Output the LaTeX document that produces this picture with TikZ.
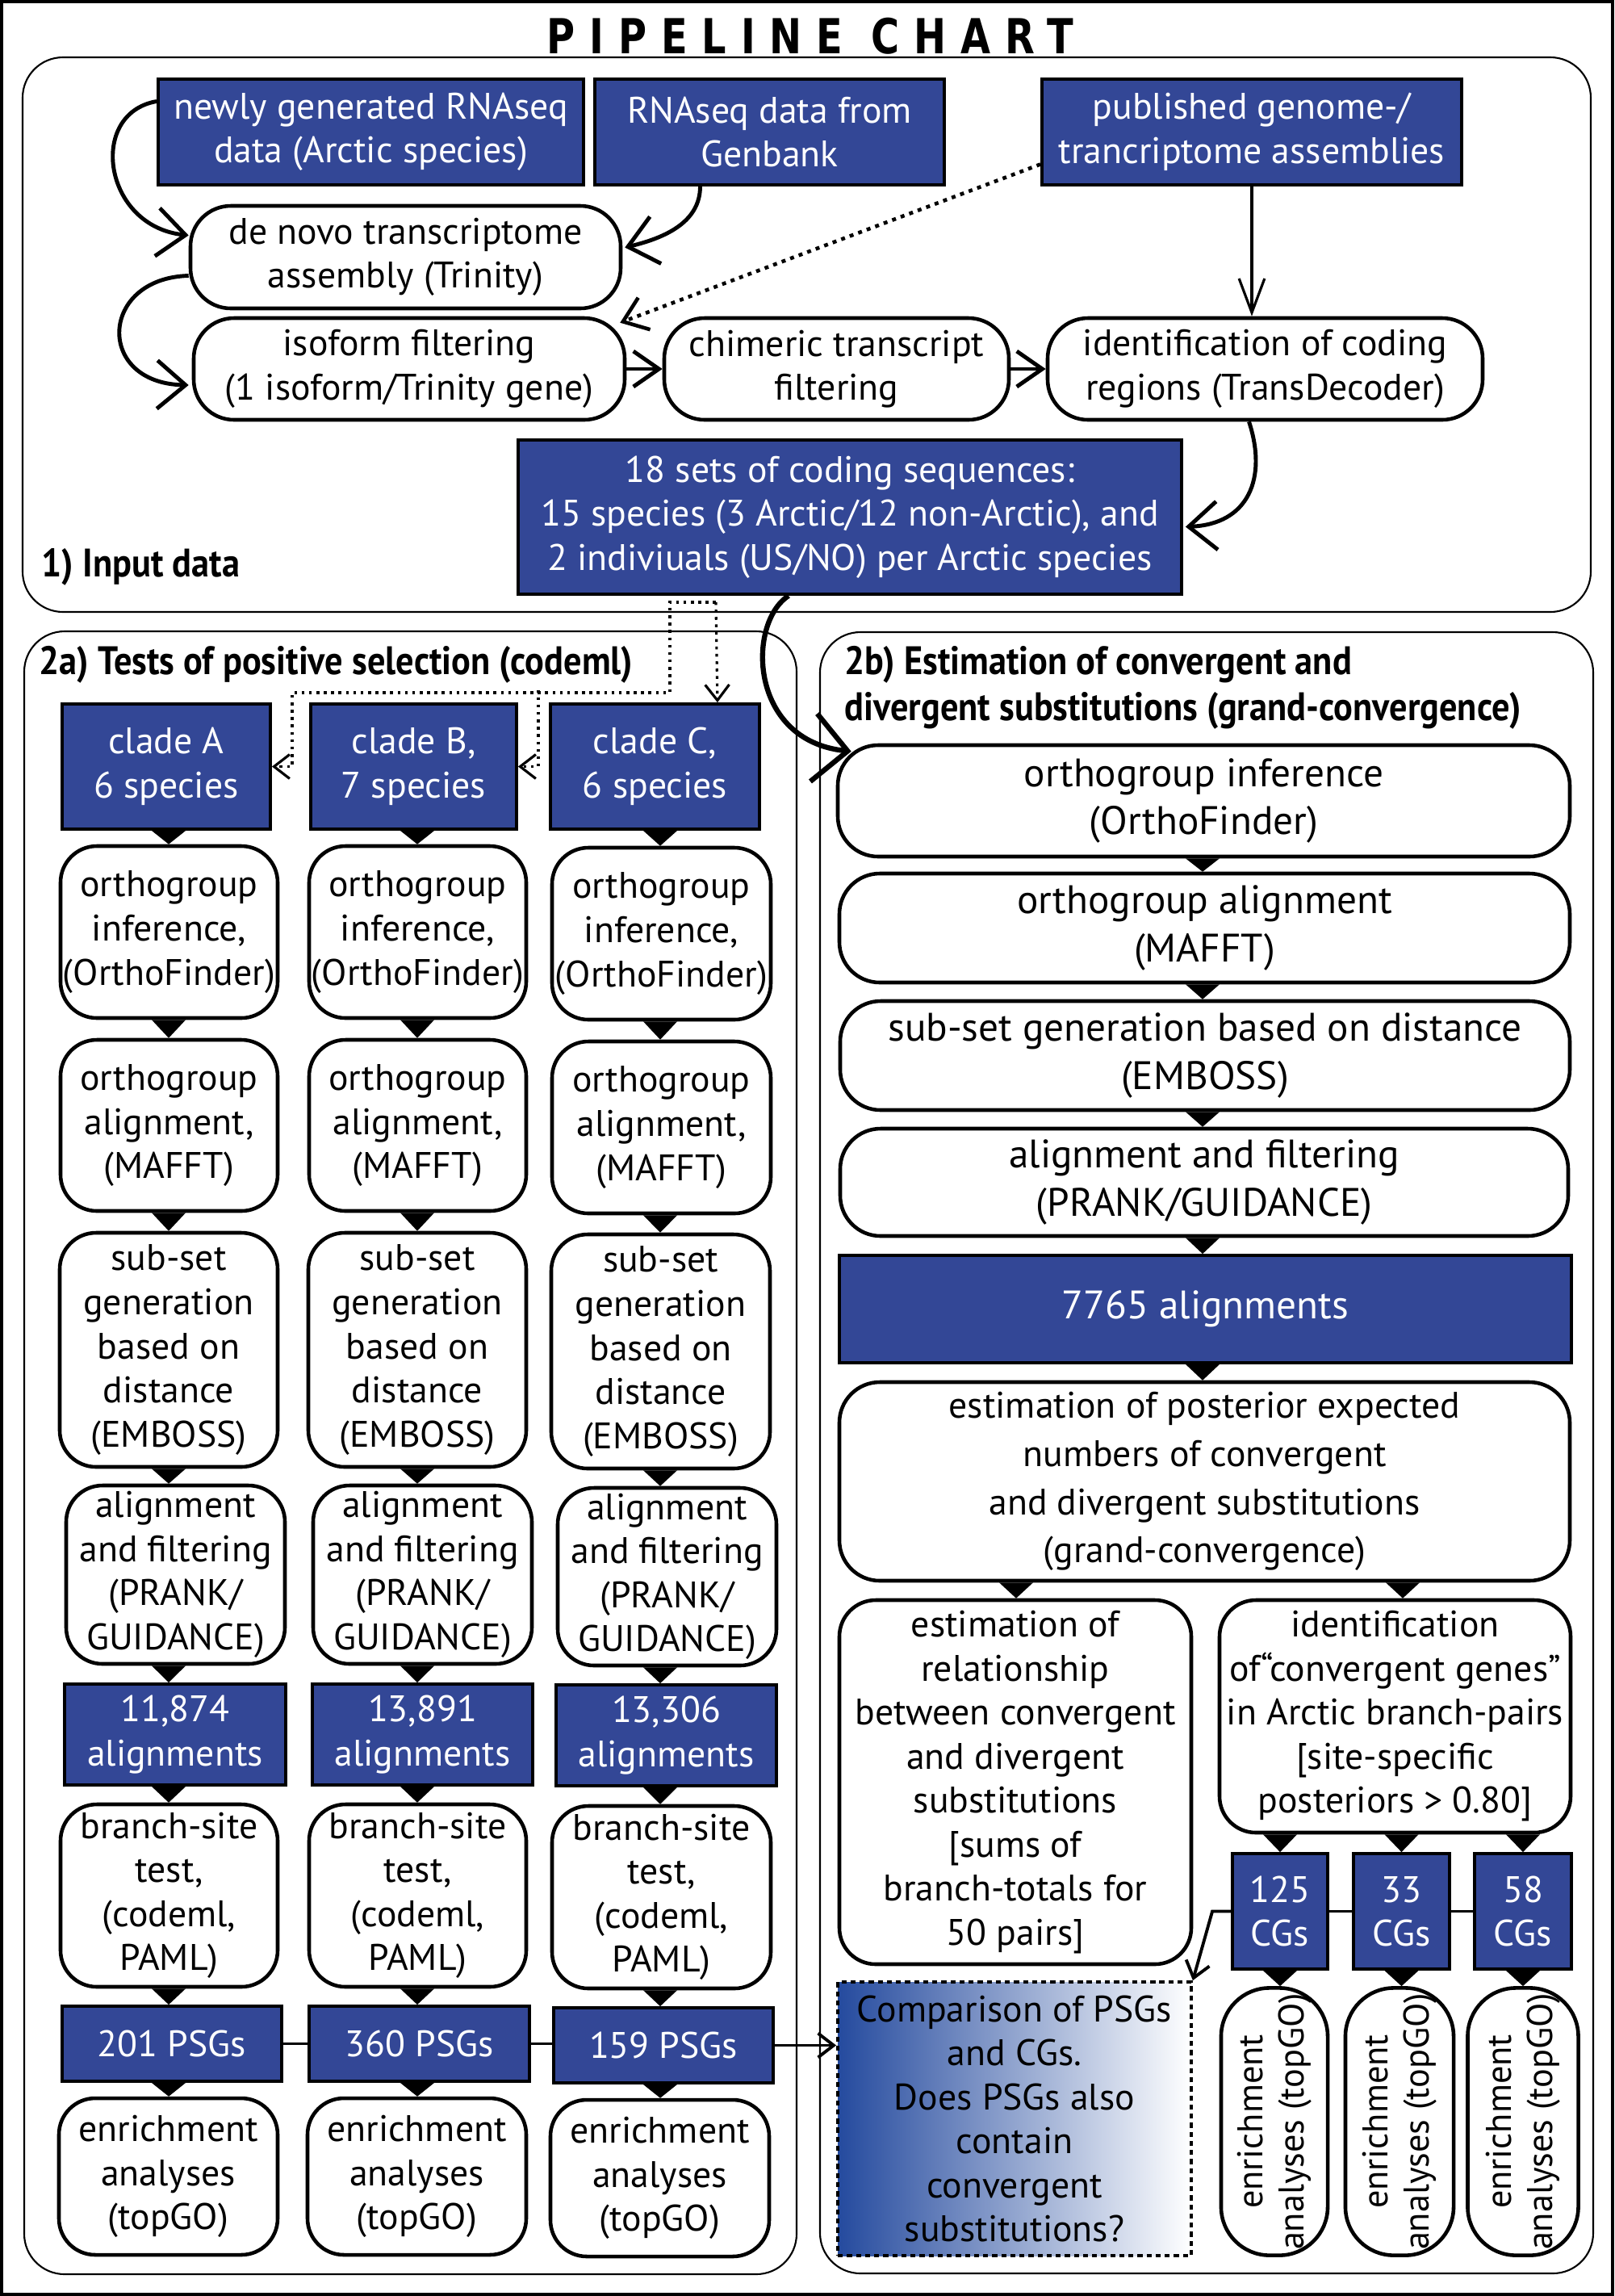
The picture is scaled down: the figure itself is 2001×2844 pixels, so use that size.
\documentclass[tikz,border=0pt]{standalone}
\usepackage{fontspec}
\setmainfont{PT Sans}
\newfontfamily\titlefont{DejaVu Sans}[FakeStretch=0.8]
\newfontfamily\secfont{PT Sans}[FakeStretch=0.9]
\usetikzlibrary{calc,arrows.meta}
\definecolor{myblue}{RGB}{51,71,150}
\definecolor{gradblue}{RGB}{36,74,158}
\newcommand\bodysize{\fontsize{13}{15.5}\selectfont}
\newcommand\widesize{\fontsize{14}{17}\selectfont}
\newcommand\tri[3]{\fill ($(#2.south -| #1)+(-21,0)$) -- ($(#2.south -| #1)+(21,0)$) -- (#1 |- #3.north) -- cycle;}
\begin{document}
\begin{tikzpicture}[x=0.01cm,y=-0.01cm,
  box/.style args={#1/#2/#3/#4}{minimum width={(#3-#1)*0.01cm}, minimum height={(#4-#2)*0.01cm}, at={({(#1+#3)/2},{(#2+#4)/2})}},
  bluebox/.style={draw=black, line width=1.1pt, fill=myblue, text=white, align=center, inner sep=0pt, font=\bodysize},
  rbox/.style={draw=black, line width=1.3pt, fill=white, rounded corners=0.45cm, align=center, inner sep=0pt, font=\bodysize},
  wbox/.style={rbox, rounded corners=0.5cm, font=\widesize},
  vbox/.style={rbox, rounded corners=0.6cm, rotate=90, minimum width=3.31cm, font=\fontsize{12.6}{14.5}\selectfont},
  section/.style={draw=black, line width=0.6pt, rounded corners=0.5cm, inner sep=0pt},
  sectitle/.style={font=\fontsize{14}{16}\selectfont\secfont\bfseries, inner sep=0pt},
  conn/.style={line width=1.4pt},
  barbA/.style={-{Straight Barb[length=10pt,width=17pt]}},
  barbB/.style={-{Straight Barb[length=9pt,width=12.5pt]}},
  barbS/.style={-{Straight Barb[length=5.5pt,width=8.5pt]}},
  dotline/.style={line width=0.9pt, dash pattern=on 1pt off 1.6pt},
]
\useasboundingbox (0,0) rectangle (2001,2844);
\fill[white] (0,0) rectangle (2001,2844);
\draw[line width=1.14pt] (2,2) rectangle (1998,2842);

\node[font=\titlefont\bfseries\fontsize{17}{17}\selectfont\addfontfeatures{LetterSpace=30}] (title) at (1004,45) {PIPELINE CHART};

% sections
\node[section, box=28/71/1971/758] (sec1) {};
\node[section, box=30/782/987/2817] (sec2a) {};
\node[section, box=1016/783/1974/2816] (sec2b) {};
\node[sectitle, anchor=west] (lab1) at (51,702) {1) Input data};
\node[sectitle, anchor=west] (lab2a) at (48,823) {2a) Tests of positive selection (codeml)};
\node[sectitle, anchor=north west, align=left, font=\fontsize{14}{16.2}\selectfont\secfont\bfseries] (lab2b) at (1046,800) {2b) Estimation of convergent and\\divergent substitutions (grand-convergence)};

% section 1
\node[bluebox, box=196/98/723/229] (nA) {newly generated RNAseq\\data (Arctic species)};
\node[bluebox, box=737/98/1170/229] (nB) {RNAseq data from\\Genbank};
\node[bluebox, box=1291/98/1811/229] (nC) {published genome-/\\trancriptome assemblies};
\node[rbox, rounded corners=0.5cm, box=236/255/769/382] (denovo) {de novo transcriptome\\assembly (Trinity)};
\node[rbox, rounded corners=0.5cm, box=240/394/774/520] (iso) {isoform filtering\\(1 isoform/Trinity gene)};
\node[rbox, rounded corners=0.5cm, box=823/394/1250/520] (chim) {chimeric transcript\\filtering};
\node[rbox, rounded corners=0.5cm, box=1298/394/1837/520] (ident) {identification of coding\\regions (TransDecoder)};
\node[bluebox, box=642/545/1464/736] (sets) {18 sets of coding sequences:\\15 species (3 Arctic/12 non-Arctic), and\\2 indiviuals (US/NO) per Arctic species};

% section 2a
\node[bluebox, box=77/872/335/1027] (cA) {clade A\\6 species};
\node[bluebox, box=385/872/640/1027] (cB) {clade B,\\7 species};
\node[bluebox, box=682/872/941/1027] (cC) {clade C,\\6 species};
\node[rbox, box=75/1048/344/1261] (oiA) {orthogroup\\inference,\\(OrthoFinder)};
\node[rbox, box=383/1048/652/1261] (oiB) {orthogroup\\inference,\\(OrthoFinder)};
\node[rbox, box=684/1050/955/1263] (oiC) {orthogroup\\inference,\\(OrthoFinder)};
\node[rbox, box=75/1288/344/1500] (oaA) {orthogroup\\alignment,\\(MAFFT)};
\node[rbox, box=383/1288/652/1500] (oaB) {orthogroup\\alignment,\\(MAFFT)};
\node[rbox, box=684/1290/955/1503] (oaC) {orthogroup\\alignment,\\(MAFFT)};
\node[rbox, box=74/1527/344/1817] (ssA) {sub-set\\generation\\based on\\distance\\(EMBOSS)};
\node[rbox, box=382/1527/652/1817] (ssB) {sub-set\\generation\\based on\\distance\\(EMBOSS)};
\node[rbox, box=683/1529/954/1819] (ssC) {sub-set\\generation\\based on\\distance\\(EMBOSS)};
\node[rbox, box=82/1840/353/2061] (afA) {alignment\\and filtering\\(PRANK/\\GUIDANCE)};
\node[rbox, box=388/1840/659/2061] (afB) {alignment\\and filtering\\(PRANK/\\GUIDANCE)};
\node[rbox, box=691/1843/962/2063] (afC) {alignment\\and filtering\\(PRANK/\\GUIDANCE)};
\node[bluebox, box=80/2086/354/2211] (alA) {11,874\\alignments};
\node[bluebox, box=387/2086/660/2211] (alB) {13,891\\alignments};
\node[bluebox, box=689/2087/962/2212] (alC) {13,306\\alignments};
\node[rbox, box=75/2235/344/2461] (bsA) {branch-site\\test,\\(codeml,\\PAML)};
\node[rbox, box=383/2235/652/2461] (bsB) {branch-site\\test,\\(codeml,\\PAML)};
\node[rbox, box=684/2237/955/2463] (bsC) {branch-site\\test,\\(codeml,\\PAML)};
\node[bluebox, box=77/2485/349/2578] (psA) {201 PSGs};
\node[bluebox, box=383/2485/656/2578] (psB) {360 PSGs};
\node[bluebox, box=686/2487/958/2580] (psC) {159 PSGs};
\node[rbox, box=73/2599/344/2793] (enA) {enrichment\\analyses\\(topGO)};
\node[rbox, box=381/2599/652/2793] (enB) {enrichment\\analyses\\(topGO)};
\node[rbox, box=682/2601/953/2795] (enC) {enrichment\\analyses\\(topGO)};

% section 2b
\node[wbox, box=1038/923/1945/1061] (b1) {orthogroup inference\\(OrthoFinder)};
\node[wbox, box=1040/1082/1945/1217] (b2) {orthogroup alignment\\(MAFFT)};
\node[wbox, box=1041/1240/1945/1375] (b3) {sub-set generation based on distance\\(EMBOSS)};
\node[wbox, box=1041/1398/1943/1531] (b4) {alignment and filtering\\(PRANK/GUIDANCE)};
\node[bluebox, font=\widesize, box=1040/1555/1947/1688] (b5) {7765 alignments};
\node[wbox, font=\fontsize{13}{17}\selectfont, box=1040/1712/1945/1958] (b6) {estimation of posterior expected\\numbers of convergent\\and divergent substitutions\\(grand-convergence)};
\node[rbox, box=1040/1982/1476/2433] (b7) {estimation of\\relationship\\between convergent\\and divergent\\substitutions\\{}[sums of\\branch-totals for\\50 pairs]};
\node[rbox, box=1511/1982/1946/2270] (b8) {identification\\of“convergent genes”\\in Arctic branch-pairs\\{}[site-specific\\posteriors > 0.80]};
\node[bluebox, box=1527/2296/1645/2439] (cg1) {125\\CGs};
\node[bluebox, box=1677/2296/1796/2439] (cg2) {33\\CGs};
\node[bluebox, box=1827/2296/1947/2439] (cg3) {58\\CGs};
\node[vbox, minimum height=1.32cm] (en1) at (1579,2628) {enrichment\\analyses (topGO)};
\node[vbox, minimum height=1.34cm] (en2) at (1734,2628) {enrichment\\analyses (topGO)};
\node[vbox, minimum height=1.37cm] (en3) at (1887,2628) {enrichment\\analyses (topGO)};
\node[draw=black, line width=1.1pt, dash pattern=on 1.8pt off 1.4pt, left color=gradblue, right color=white, align=center, inner sep=0pt, font=\bodysize, box=1038/2455/1476/2794] (cmp) {Comparison of PSGs\\and CGs.\\Does PSGs also\\contain\\convergent\\substitutions?};

% column coordinates
\coordinate (colA) at (209,0);
\coordinate (colB) at (517,0);
\coordinate (colC) at (818,0);
\coordinate (colM) at (1490,0);
\coordinate (colL) at (1259,0);
\coordinate (colR) at (1738,0);

% triangle connectors
\foreach \c in {A,B,C}{
  \tri{col\c}{c\c}{oi\c}
  \tri{col\c}{oi\c}{oa\c}
  \tri{col\c}{oa\c}{ss\c}
  \tri{col\c}{ss\c}{af\c}
  \tri{col\c}{af\c}{al\c}
  \tri{col\c}{al\c}{bs\c}
  \tri{col\c}{bs\c}{ps\c}
  \tri{col\c}{ps\c}{en\c}
}
\tri{colM}{b1}{b2}
\tri{colM}{b2}{b3}
\tri{colM}{b3}{b4}
\tri{colM}{b4}{b5}
\tri{colM}{b5}{b6}
\tri{colL}{b6}{b7}
\tri{colR}{b6}{b8}
\tri{cg1}{b8}{cg1}
\tri{cg2}{b8}{cg2}
\tri{cg3}{b8}{cg3}
\foreach \i in {1,2,3}{
  \fill ($(cg\i.south)+(-21,0)$) -- ($(cg\i.south)+(21,0)$) -- (cg\i.south |- en\i.east) -- cycle;
}

% section 1 connectors
\draw[conn, barbA] ($(nA.west)+(0,-38)$) .. controls +(-86,15) and +(-106,-11) .. ($(denovo.west)+(0,-27)$);
\draw[conn, barbA] ($(nB.south)+(-86,0)$) .. controls +(0,46) and +(46,-11) .. ($(denovo.east)+(3,-12)$);
\draw[line width=1.3pt, dash pattern=on 1.4pt off 1.8pt, -{Straight Barb[length=8pt,width=12pt]}] ($(nC.west)+(0,40)$) -- ($(iso.north east)+(-8,8)$);
\draw[line width=0.9pt, -{Straight Barb[length=12pt,width=9pt]}] (nC.south) -- (nC.south |- ident.north);
\draw[conn, barbA] ($(denovo.west)+(0,23)$) .. controls +(-111,3) and +(-116,-2) .. ($(iso.west)+(-4,20)$);
\draw[conn, barbB] (iso.east) -- (chim.west);
\draw[conn, barbB] (chim.east) -- (ident.west);
\draw[conn, barbA] ($(ident.south)+(-20,0)$) .. controls +(23,70) and +(78,-3) .. ($(sets.east)+(3,12)$);

% from coding sequences
\draw[line width=1.8pt, -{Straight Barb[length=12pt,width=24pt]}] ($(sets.south)+(-76,0)$) .. controls +(-52,34) and +(-127,-13) .. ($(b1.north west)+(19,10)$);
\coordinate (dt) at ($(sets.south)+(-166,8)$);
\draw[dotline, barbS] (dt) -- ($(cC.north east)+(-54,0)$);
\draw[dotline, barbS] (dt) -- ++(-57,0) -- ++(0,112) -| ($(cA.east)+(25,0)$) -- (cA.east);
\draw[dotline, barbS] ($(cB.east)+(25,-95)$) -- ($(cB.east)+(25,0)$) -- (cB.east);

% PSG and CG links
\draw[line width=1.1pt] (psA.east) -- (psB.west);
\draw[line width=1.1pt] (psB.east) -- (psB.east -| psC.west);
\draw[line width=1.1pt, barbS] (psC.east) -- (psC.east -| cmp.west);
\draw[line width=1.1pt] (cg1.east) -- (cg2.west);
\draw[line width=1.1pt] (cg2.east) -- (cg3.west);
\draw[line width=1.1pt, barbS] (cg1.west) -- ++(-23,0) -- (cmp.north east);
\end{tikzpicture}
\end{document}
